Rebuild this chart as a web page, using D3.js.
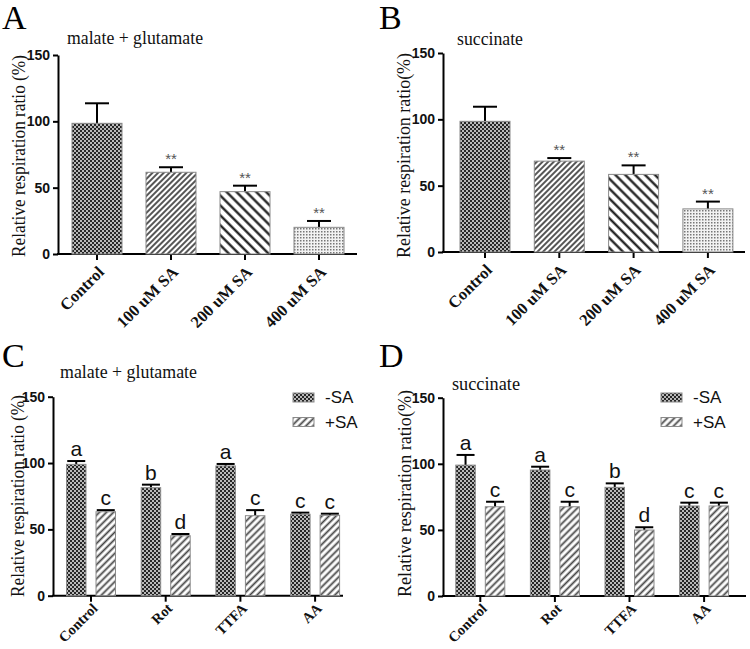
<!DOCTYPE html>
<html><head><meta charset="utf-8">
<script src="https://cdn.jsdelivr.net/npm/d3@7"></script>
<style>
body{margin:0;background:#fff;}
svg{display:block;}
</style></head>
<body>
<svg id="chart" width="750" height="649"></svg>
<script>
// ---------- data ----------
const categoriesAB = ["Control", "100 uM SA", "200 uM SA", "400 uM SA"];
const valuesA = [98.5, 61.6, 47.0, 20.1];
const errorsA = [15.1, 3.8, 4.5, 4.8];
const valuesB = [98.5, 68.5, 58.5, 32.5];
const errorsB = [11.0, 2.3, 6.8, 5.5];
const starsAB = ["", "**", "**", "**"];

const categoriesCD = ["Control", "Rot", "TTFA", "AA"];
const seriesCD = ["-SA", "+SA"];
const minusC = [99.0, 81.4, 97.8, 61.4];
const minusErrC = [2.5, 2.3, 1.5, 1.2];
const plusC = [63.3, 45.2, 60.3, 60.6];
const plusErrC = [1.2, 1.3, 4.2, 1.2];
const minusLettersC = ["a", "b", "a", "c"];
const plusLettersC = ["c", "d", "c", "c"];

const minusD = [99.0, 95.3, 82.2, 68.1];
const minusErrD = [7.7, 2.5, 3.0, 2.5];
const plusD = [67.5, 67.5, 49.9, 68.1];
const plusErrD = [3.8, 3.8, 2.1, 2.5];
const minusLettersD = ["a", "a", "b", "c"];
const plusLettersD = ["c", "c", "d", "c"];

const yTicks = [0, 50, 100, 150];

// ---------- setup ----------
const svg = d3.select("#chart");
const defs = svg.append("defs");
const SERIF = "'Liberation Serif', 'Times New Roman', Times, serif";
const SANS = "'Liberation Sans', Arial, sans-serif";

function hatch(id, w, angle, color, sw) {
  const p = defs.append("pattern").attr("id", id).attr("patternUnits", "userSpaceOnUse")
    .attr("width", w).attr("height", w).attr("patternTransform", `rotate(${angle})`);
  p.append("rect").attr("width", w).attr("height", w).attr("fill", "#fff");
  p.append("line").attr("x1", w / 2).attr("x2", w / 2).attr("y1", 0).attr("y2", w)
    .attr("stroke", color).attr("stroke-width", sw);
}
(function () {
  const p = defs.append("pattern").attr("id", "checker").attr("patternUnits", "userSpaceOnUse")
    .attr("width", 4).attr("height", 4);
  p.append("rect").attr("width", 4).attr("height", 4).attr("fill", "#262626");
  p.append("rect").attr("x", 0).attr("y", 0).attr("width", 2).attr("height", 2).attr("fill", "#b8b8b8");
  p.append("rect").attr("x", 2).attr("y", 2).attr("width", 2).attr("height", 2).attr("fill", "#b8b8b8");
  const q = defs.append("pattern").attr("id", "dots").attr("patternUnits", "userSpaceOnUse")
    .attr("width", 3).attr("height", 3);
  q.append("rect").attr("width", 3).attr("height", 3).attr("fill", "#f2f2f2");
  q.append("rect").attr("width", 1.5).attr("height", 1.5).attr("fill", "#777");
})();
hatch("hatchFine", 4, 45, "#444", 1.8);
hatch("hatchBack", 7, -45, "#111", 2.2);
hatch("hatchMed", 5, 45, "#444", 1.8);

const patternsAB = ["checker", "hatchFine", "hatchBack", "dots"];
const patternsCD = ["checker", "hatchMed"];

function frame(cfg) {
  const g = svg.append("g");
  const y = d3.scaleLinear().domain([0, 150]).range([cfg.yBot, cfg.yTop]);
  const x = d3.scaleBand().domain(cfg.cats)
    .range([cfg.firstTick - cfg.step / 2, cfg.firstTick + cfg.step * (cfg.cats.length - 0.5)]);

  // y axis
  const ya = g.append("g").attr("transform", `translate(${cfg.x0},0)`)
    .call(d3.axisLeft(y).tickValues(yTicks).tickSize(5).tickSizeOuter(0).tickPadding(3));
  ya.select(".domain").attr("stroke", "#000").attr("stroke-width", 2);
  ya.selectAll(".tick line").attr("stroke", "#000").attr("stroke-width", 2);
  ya.selectAll(".tick text").attr("font-family", SANS)
    .attr("font-weight", "bold").attr("font-size", 14).attr("fill", "#111");

  // x axis
  const xa = g.append("g").attr("transform", `translate(0,${cfg.yBot})`)
    .call(d3.axisBottom(x).tickSize(6).tickSizeOuter(0));
  xa.select(".domain").remove();
  xa.selectAll(".tick line").attr("stroke", "#000").attr("stroke-width", 2);
  xa.selectAll(".tick text").attr("font-family", SERIF)
    .attr("font-weight", "bold").attr("font-size", cfg.xFont).attr("fill", "#111")
    .attr("text-anchor", "end").attr("y", 0).attr("dy", "0.35em")
    .attr("transform", `translate(4,${cfg.xOff}) rotate(-45)`);
  g.append("line").attr("x1", cfg.x0 - 1).attr("x2", cfg.xEnd).attr("y1", cfg.yBot).attr("y2", cfg.yBot)
    .attr("stroke", "#000").attr("stroke-width", 2);

  // y label
  g.append("text").attr("transform", `translate(${cfg.labX},${cfg.labY}) rotate(-90)`)
    .attr("text-anchor", "middle").attr("dy", "0.35em")
    .attr("font-family", SERIF).attr("font-size", 19)
    .attr("textLength", cfg.labLen).attr("lengthAdjust", "spacingAndGlyphs")
    .attr("fill", "#111").text(cfg.ylabel);
  // title
  g.append("text").attr("x", cfg.titleX).attr("y", cfg.titleY)
    .attr("font-family", SERIF).attr("font-size", 19)
    .attr("textLength", cfg.titleLen).attr("lengthAdjust", "spacingAndGlyphs")
    .attr("fill", "#111").text(cfg.title);
  // panel letter
  g.append("text").attr("x", cfg.letterX).attr("y", cfg.letterY)
    .attr("font-family", SERIF).attr("font-size", 34)
    .attr("fill", "#000").text(cfg.letter);
  return { g, x, y };
}

function panelAB(cfg, values, errors) {
  const { g, x, y } = frame(cfg);
  const data = cfg.cats.map((c, i) => ({ c, v: values[i], e: errors[i], p: patternsAB[i], s: starsAB[i] }));
  const bw = 50, cap = 24;
  const bars = g.selectAll(".bar").data(data).enter().append("g");
  bars.append("line").attr("x1", d => x(d.c) + x.bandwidth() / 2).attr("x2", d => x(d.c) + x.bandwidth() / 2)
    .attr("y1", d => y(d.v)).attr("y2", d => y(d.v + d.e)).attr("stroke", "#000").attr("stroke-width", 2);
  bars.append("line").attr("x1", d => x(d.c) + x.bandwidth() / 2 - cap / 2).attr("x2", d => x(d.c) + x.bandwidth() / 2 + cap / 2)
    .attr("y1", d => y(d.v + d.e)).attr("y2", d => y(d.v + d.e)).attr("stroke", "#000").attr("stroke-width", 2);
  bars.append("rect").attr("x", d => x(d.c) + x.bandwidth() / 2 - bw / 2).attr("width", bw)
    .attr("y", d => y(d.v)).attr("height", d => y(0) - y(d.v))
    .attr("fill", d => `url(#${d.p})`).attr("stroke", "#8a8a8a").attr("stroke-width", 1);
  bars.append("text").attr("x", d => x(d.c) + x.bandwidth() / 2).attr("y", d => y(d.v + d.e) - 3)
    .attr("text-anchor", "middle").attr("font-family", SANS)
    .attr("font-size", 15).attr("fill", "#555").text(d => d.s);
}

function panelCD(cfg, minus, minusErr, plus, plusErr, minusLetters, plusLetters) {
  const { g, x, y } = frame(cfg);
  const sub = d3.scaleBand().domain(seriesCD).range([-24.5, 24.5]).paddingInner(0.34).paddingOuter(0);
  const data = [];
  cfg.cats.forEach((c, i) => {
    data.push({ c, s: "-SA", v: minus[i], e: minusErr[i], l: minusLetters[i], p: patternsCD[0] });
    data.push({ c, s: "+SA", v: plus[i], e: plusErr[i], l: plusLetters[i], p: patternsCD[1] });
  });
  const cap = 18;
  const cx = d => x(d.c) + x.bandwidth() / 2 + sub(d.s) + sub.bandwidth() / 2;
  const bars = g.selectAll(".bar").data(data).enter().append("g");
  bars.append("line").attr("x1", cx).attr("x2", cx)
    .attr("y1", d => y(d.v)).attr("y2", d => y(d.v + d.e)).attr("stroke", "#000").attr("stroke-width", 2);
  bars.append("line").attr("x1", d => cx(d) - cap / 2).attr("x2", d => cx(d) + cap / 2)
    .attr("y1", d => y(d.v + d.e)).attr("y2", d => y(d.v + d.e)).attr("stroke", "#000").attr("stroke-width", 2);
  bars.append("rect").attr("x", d => cx(d) - sub.bandwidth() / 2).attr("width", sub.bandwidth())
    .attr("y", d => y(d.v)).attr("height", d => y(0) - y(d.v))
    .attr("fill", d => `url(#${d.p})`).attr("stroke", "#8a8a8a").attr("stroke-width", 1);
  bars.append("text").attr("x", cx).attr("y", d => y(d.v + d.e) - 5)
    .attr("text-anchor", "middle").attr("font-family", SANS)
    .attr("font-size", 21).attr("fill", "#111").text(d => d.l);

  // legend
  const lg = g.append("g");
  seriesCD.forEach((s, i) => {
    const yy = cfg.legY + i * 24.5;
    lg.append("rect").attr("x", cfg.legX).attr("y", yy).attr("width", 21).attr("height", 9)
      .attr("fill", `url(#${patternsCD[i]})`).attr("stroke", "#8a8a8a").attr("stroke-width", 1);
    lg.append("text").attr("x", cfg.legX + 32).attr("y", yy + 4.5).attr("dy", "0.35em")
      .attr("font-family", SANS).attr("font-size", 17)
      .attr("fill", "#111").text(s);
  });
}

panelAB({ cats: categoriesAB, x0: 58, xEnd: 357, yTop: 55, yBot: 254, firstTick: 97, step: 74, xFont: 16.5, xOff: 15,
  labX: 18, labY: 156, labLen: 202, ylabel: "Relative respiration ratio (%)",
  titleX: 67, titleY: 44, titleLen: 136, title: "malate + glutamate", letterX: 2, letterY: 29, letter: "A" }, valuesA, errorsA);

panelAB({ cats: categoriesAB, x0: 443, xEnd: 745, yTop: 53, yBot: 252, firstTick: 485, step: 74.3, xFont: 16.5, xOff: 15,
  labX: 403, labY: 155.5, labLen: 205, ylabel: "Relative respiration ratio(%)",
  titleX: 457, titleY: 45, titleLen: 66, title: "succinate", letterX: 379, letterY: 29, letter: "B" }, valuesB, errorsB);

panelCD({ cats: categoriesCD, x0: 53, xEnd: 343, yTop: 396.7, yBot: 595.7, firstTick: 91, step: 74.7, xFont: 14.5, xOff: 10,
  labX: 17, labY: 496, labLen: 202, ylabel: "Relative respiration ratio (%)",
  titleX: 60, titleY: 378, titleLen: 137, title: "malate + glutamate", letterX: 2, letterY: 367, letter: "C",
  legX: 293, legY: 393 }, minusC, minusErrC, plusC, plusErrC, minusLettersC, plusLettersC);

panelCD({ cats: categoriesCD, x0: 443, xEnd: 746, yTop: 397.7, yBot: 596, firstTick: 480.3, step: 74.6, xFont: 14.5, xOff: 10,
  labX: 404, labY: 493.5, labLen: 207, ylabel: "Relative respiration ratio(%)",
  titleX: 452, titleY: 390, titleLen: 68, title: "succinate", letterX: 379, letterY: 367, letter: "D",
  legX: 661, legY: 393 }, minusD, minusErrD, plusD, plusErrD, minusLettersD, plusLettersD);
</script>
</body></html>
